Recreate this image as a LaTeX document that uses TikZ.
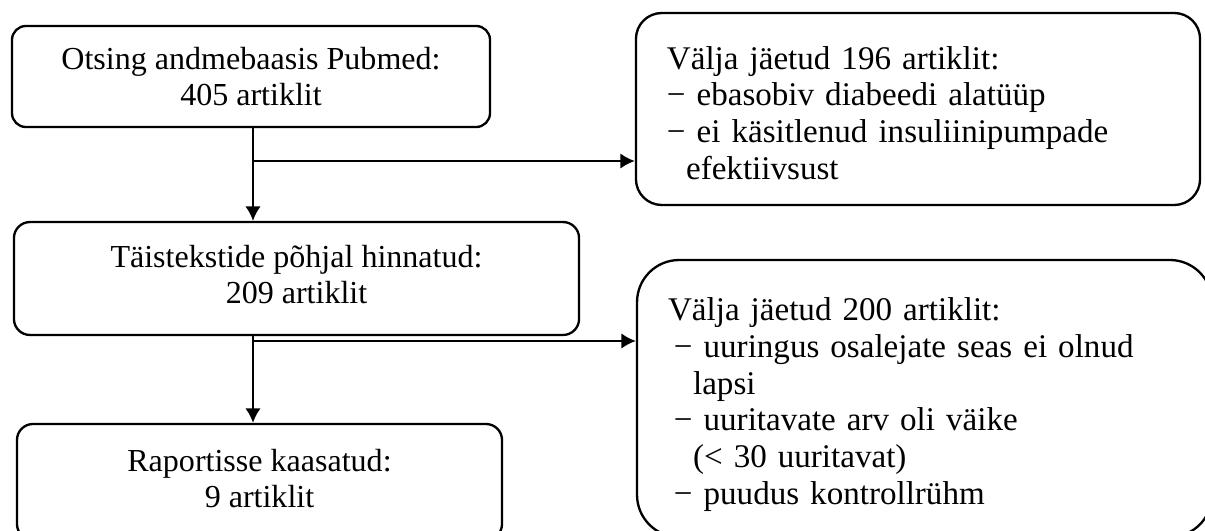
\documentclass[tikz,border=0pt]{standalone}
\usepackage{fontspec}
\setmainfont{Liberation Serif}
\usetikzlibrary{arrows.meta,positioning}

\begin{document}
\begin{tikzpicture}[x=0.387pt,y=-0.387pt,line width=0.9pt,
    >={Latex[length=5.6pt,width=6pt]},
    stage/.style={draw,rounded corners=6.2pt,inner sep=0pt,align=center,
      font=\fontsize{12.4}{13.9}\selectfont},
    excl/.style={draw,inner xsep=12pt,inner ysep=0pt,align=left,
      font=\fontsize{12.8}{14.2}\selectfont}]
        \useasboundingbox (0,0) rectangle (1205,530);
        % flow boxes on the left
        \node[stage,rounded corners=5.4pt,minimum width=185pt,minimum height=39.1pt]
          (otsing) at (251,76.5) {Otsing andmebaasis Pubmed:\\405 artiklit};
        \node[stage,minimum width=218.7pt,minimum height=43.7pt]
          (hinnatud) at (296.5,278.5) {Täistekstide põhjal hinnatud:\\209 artiklit\rule[-3.1pt]{0pt}{3.1pt}};
        \node[stage,minimum width=187.7pt,minimum height=44.9pt]
          (raport) at (259.5,482) {Raportisse kaasatud:\\9 artiklit\rule[-3.1pt]{0pt}{3.1pt}};
        % excluded articles on the right
        \node[excl,rounded corners=10pt,text width=194.3pt,minimum height=74.3pt]
          (valja1) at (918,109) {\rule{0pt}{12pt}Välja jäetud 196 artiklit:\\
            − ebasobiv diabeedi alatüüp\\
            − ei käsitlenud insuliinipumpade\\
            \hspace*{7.4pt}efektiivsust};
        \node[excl,rounded corners=16.3pt,text width=198.5pt,minimum height=107.2pt]
          (valja2) at (924.5,398.5) {\rule{0pt}{13.6pt}Välja jäetud 200 artiklit:\\
            \hspace*{2.3pt}− uuringus osalejate seas ei olnud\\
            \hspace*{9.7pt}lapsi\\
            \hspace*{2.3pt}− uuritavate arv oli väike\\
            \hspace*{9.7pt}(< 30 uuritavat)\\
            \hspace*{2.3pt}− puudus kontrollrühm};
        \coordinate (j1) at (253,161);
        \coordinate (j2) at (253,341);
        \draw[->] (otsing.south -| j1) -- (hinnatud.north -| j1);
        \draw[->] (j1) -- (j1 -| valja1.west);
        \draw[->] (hinnatud.south -| j2) -- (raport.north -| j2);
        \draw[->] (j2) -- (j2 -| valja2.west);
      \end{tikzpicture}
\end{document}
